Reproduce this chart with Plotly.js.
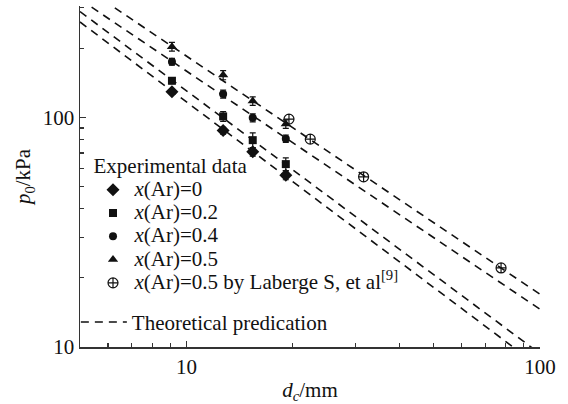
<!DOCTYPE html>
<html>
<head>
<meta charset="utf-8">
<script src="https://cdn.plot.ly/plotly-3.0.1.min.js"></script>
<style>
  html, body { margin: 0; padding: 0; background: #fff; }
  #chart { width: 568px; height: 404px; }
</style>
</head>
<body>
<div id="chart"></div>
<script>
// Critical tube diameter d_c (mm) of the experimental series
const dExp = [9.1, 12.7, 15.4, 19.1];

// Critical initial pressure p0 (kPa) for each argon mole fraction
const pAr0  = [129.3, 87.6, 70.8, 56.0];
const pAr02 = [144.4, 101.0, 79.6, 62.6];
const pAr04 = [174.8, 126.4, 99.6, 80.8];
const pAr05 = [203.2, 152.9, 117.8, 93.5];

// Measurement uncertainty (kPa)
const errAr0  = [3, 3, 3, 2.5];
const errAr02 = [4, 5, 6, 4];
const errAr04 = [6, 5, 4, 3];
const errAr05 = [9, 7, 5, 4];

// Reference data, x(Ar)=0.5, Laberge S, et al
const dLaberge = [19.5, 22.4, 31.7, 77.6];
const pLaberge = [98.3, 80.4, 55.1, 22.1];

// Theoretical predictions, evaluated at both ends of the diameter range
const dTheory   = [5, 100];
const pTheory0  = [260.4, 8.16];
const pTheory02 = [288.9, 9.35];
const pTheory04 = [326.6, 14.6];
const pTheory05 = [379.6, 16.97];

// Legend labels
const legendTitle = 'Experimental data';
const labels = [
  '<i>x</i>(Ar)=0',
  '<i>x</i>(Ar)=0.2',
  '<i>x</i>(Ar)=0.4',
  '<i>x</i>(Ar)=0.5',
  '<i>x</i>(Ar)=0.5 by Laberge S, et al<sup>[9]</sup>'
];
const theoryLabel = 'Theoretical predication';

// Axis ticks
const xTickVals = [10, 100];
const xTickText = ['10', '100'];
const xMinor = [6, 7, 8, 9, 20, 30, 40, 50, 60, 70, 80, 90];
const yTickVals = [10, 100];
const yTickText = ['10', '100'];
const yMinor = [20, 30, 40, 50, 60, 70, 80, 90, 200, 300];

const FONT = 'Liberation Serif';
const INK = '#111';
const TEXT_SIZE = 21;

// legend rows are spaced by the (smaller) legend font; entry text is set larger
const big = s => '<span style="font-size:' + TEXT_SIZE + 'px">' + s + '</span>';

const theoryLine = { color: INK, width: 1.6, dash: '8px,6px' };

function expTrace(y, err, symbol, size, name) {
  return {
    x: dExp, y: y, name: big(name), type: 'scatter', mode: 'markers',
    marker: { symbol: symbol, size: size, color: INK },
    error_y: { type: 'data', array: err, visible: true, color: INK, thickness: 1.2, width: 3 },
    legend: 'legend'
  };
}

function theoryTrace(y, show) {
  return {
    x: dTheory, y: y, name: theoryLabel, type: 'scatter', mode: 'lines',
    line: theoryLine, showlegend: show, legend: 'legend2', hoverinfo: 'skip'
  };
}

const data = [
  theoryTrace(pTheory05, true),
  theoryTrace(pTheory04, false),
  theoryTrace(pTheory02, false),
  theoryTrace(pTheory0, false),
  expTrace(pAr0, errAr0, 'diamond', 10, labels[0]),
  expTrace(pAr02, errAr02, 'square', 8, labels[1]),
  expTrace(pAr04, errAr04, 'circle', 8, labels[2]),
  expTrace(pAr05, errAr05, 'triangle-up', 9, labels[3]),
  {
    x: dLaberge, y: pLaberge, name: big(labels[4]), type: 'scatter', mode: 'markers',
    marker: { symbol: 'circle-cross-open', size: 10, color: INK, line: { width: 1.2, color: INK } },
    legend: 'legend'
  }
];

const axisCommon = {
  type: 'log',
  showgrid: false,
  zeroline: false,
  showline: true,
  linecolor: '#333',
  linewidth: 1.5,
  ticks: 'inside',
  ticklen: 6,
  tickwidth: 1.2,
  tickcolor: '#333',
  tickmode: 'array',
  tickfont: { family: FONT, size: TEXT_SIZE, color: INK },
  mirror: false
};

const layout = {
  width: 568,
  height: 404,
  margin: { l: 80, r: 28, t: 6, b: 57 },
  paper_bgcolor: '#fff',
  plot_bgcolor: '#fff',
  font: { family: FONT, color: INK, size: TEXT_SIZE },
  showlegend: true,
  xaxis: Object.assign({}, axisCommon, {
    range: [Math.log10(5), 2],
    tickvals: xTickVals,
    ticktext: xTickText,
    minor: { tickvals: xMinor, ticks: 'inside', ticklen: 4, tickwidth: 1.2, tickcolor: '#333' },
    title: { text: '<i>d</i><sub><i>c</i></sub>/mm', font: { family: FONT, size: TEXT_SIZE, color: INK }, standoff: 6 }
  }),
  yaxis: Object.assign({}, axisCommon, {
    range: [1, 2.4852],
    tickvals: yTickVals,
    ticktext: yTickText,
    minor: { tickvals: yMinor, ticks: 'inside', ticklen: 4, tickwidth: 1.2, tickcolor: '#333' },
    title: { text: '<i>p</i><sub>0</sub>/kPa', font: { family: FONT, size: TEXT_SIZE, color: INK }, standoff: 6 }
  }),
  legend: {
    x: 0.025, y: 0.59, xanchor: 'left', yanchor: 'top',
    bgcolor: 'rgba(0,0,0,0)', borderwidth: 0,
    font: { family: FONT, size: 15.6, color: INK },
    title: { text: legendTitle, font: { family: FONT, size: TEXT_SIZE, color: INK } },
    tracegroupgap: 0,
    itemwidth: 33
  },
  legend2: {
    x: -0.009, y: 0.0725, xanchor: 'left', yanchor: 'middle',
    bgcolor: 'rgba(0,0,0,0)', borderwidth: 0,
    font: { family: FONT, size: TEXT_SIZE, color: INK },
    itemwidth: 46
  }
};

Plotly.newPlot('chart', data, layout, { staticPlot: true, displayModeBar: false });
</script>
</body>
</html>
